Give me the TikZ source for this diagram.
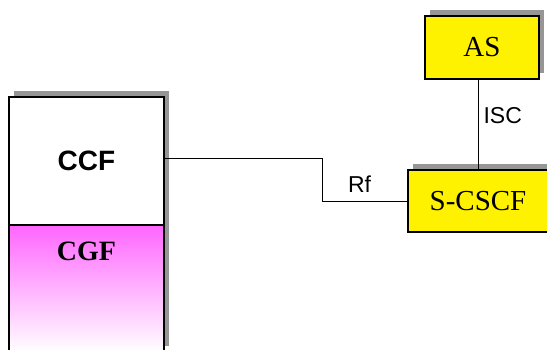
\documentclass[tikz,border=0pt]{standalone}
\usepackage{fontspec}
\setmainfont{Liberation Serif}
\setsansfont{Liberation Sans}
\usetikzlibrary{positioning,shadows}
\definecolor{shadowgray}{RGB}{150,150,150}
\definecolor{cgfpink}{RGB}{255,102,255}

\begin{document}
\begin{tikzpicture}
[x=1pt,y=-1pt]
\tikzstyle{box node}=[rectangle,draw,line width=1.3pt,inner sep=0pt,outer sep=0pt,drop shadow={shadow xshift=5pt,shadow yshift=6.5pt,fill=shadowgray,opacity=1}]
\tikzstyle{yellow node}=[box node,fill=yellow,font=\fontsize{29}{32}\selectfont]
\tikzstyle{link}=[line width=0.9pt]
\tikzstyle{link label}=[font=\sffamily\fontsize{23}{26}\selectfont]

\useasboundingbox(0,0)rectangle(547,349);
\clip(0,0)rectangle(547,349);

\node(cgf)[box node,anchor=north,minimum width=155pt,text height=27pt,text depth=84pt,inner ysep=8pt,
  top color=cgfpink,bottom color=white,font=\bfseries\fontsize{28}{31}\selectfont]at(86.5,225){CGF};
\node(ccf)[box node,fill=white,minimum width=155pt,minimum height=128pt,above=0pt of cgf,
  font=\sffamily\bfseries\fontsize{28}{31}\selectfont]{CCF};

\node(as)[yellow node,minimum width=114pt,minimum height=63pt]at(482,47.5){AS};
\node(scscf)[yellow node,anchor=west,minimum width=140pt,minimum height=62pt]at(408,201){S-CSCF};

\coordinate(bend)at(322,158);
\draw[link](ccf.east|-bend)--(bend)|-(scscf.west);
\draw[link](as.south-|scscf.north)--(scscf.north);

\node(isc)[link label,anchor=west]at(480,116){ISC};
\node(rf)[link label]at(359.5,184){Rf};
\end{tikzpicture}
\end{document}
